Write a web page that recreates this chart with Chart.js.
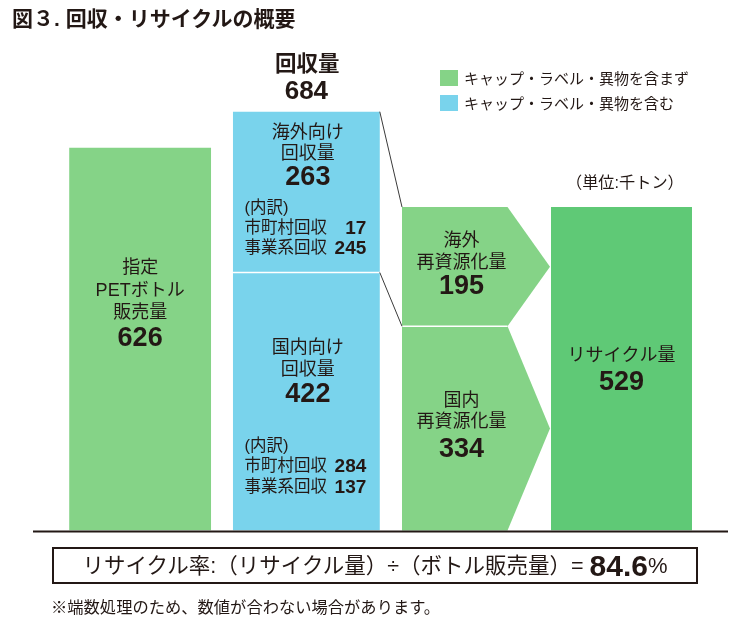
<!DOCTYPE html>
<html><head><meta charset="utf-8">
<script src="https://cdn.jsdelivr.net/npm/chart.js@4.4.0/dist/chart.umd.min.js"></script>
<style>
html,body{margin:0;padding:0;background:#fff;}
#wrap{position:relative;width:751px;height:627px;overflow:hidden;font-family:"Liberation Sans","Noto Sans CJK JP",sans-serif;color:#231815;}
#c{position:absolute;left:0;top:0;}
.abs{position:absolute;white-space:nowrap;}
</style></head><body>
<div id="wrap">
<canvas id="c" width="751" height="627"></canvas>
<div class="abs" style="left:12px;top:6px;font-size:21px;line-height:26px;font-weight:bold;">図３. 回収・リサイクルの概要</div>
<div class="abs" id="lg1" style="left:440px;top:70px;width:18px;height:16px;"></div>
<div class="abs" style="left:464px;top:69px;font-size:15px;line-height:20px;">キャップ・ラベル・異物を含まず</div>
<div class="abs" id="lg2" style="left:440px;top:94.5px;width:18px;height:16.5px;"></div>
<div class="abs" style="left:464px;top:94px;font-size:15px;line-height:20px;">キャップ・ラベル・異物を含む</div>
<div class="abs" style="left:566px;top:172px;font-size:16.2px;line-height:20px;">（単位:千トン）</div>
<div class="abs" style="left:52px;top:547px;width:646px;height:37px;box-sizing:border-box;border:2px solid #231815;display:flex;align-items:center;justify-content:center;">
  <span style="font-size:21.5px;line-height:30px;">リサイクル率:（リサイクル量）÷（ボトル販売量）= </span><b style="font-size:30px;line-height:30px;margin-left:6px;">84.6</b><span style="font-size:22px;line-height:30px;">%</span>
</div>
<div class="abs" style="left:51px;top:597px;font-size:16.3px;line-height:20px;">※端数処理のため、数値が合わない場合があります。</div>
</div>
<script>
// ---- data (千トン) ----
const groups = ['販売量・回収量', '再資源化量・リサイクル量'];
const salesPET = [626, null];            // 指定PETボトル販売量
const collectedDomestic = [422, null];   // 国内向け回収量
const collectedOverseas = [263, null];   // 海外向け回収量
const reprocessedDomestic = [null, 334]; // 国内再資源化量
const reprocessedOverseas = [null, 195]; // 海外再資源化量
const recycledTotal = [null, 529];       // リサイクル量
const collectedTotal = 684;              // 回収量
const domesticBreakdown = [284, 137];    // 市町村回収, 事業系回収
const overseasBreakdown = [17, 245];
const breakdownNames = ['市町村回収', '事業系回収'];

const GREEN = '#85D387', BLUE = '#79D3EC', DGREEN = '#5FC976', INK = '#231815';
document.getElementById('lg1').style.background = GREEN;
document.getElementById('lg2').style.background = BLUE;

const cpA = 1.0215, cpB = 0.894;
const datasets = [
  {label: '指定PETボトル販売量', data: salesPET, stack: 'L', backgroundColor: GREEN, categoryPercentage: cpA, barPercentage: 0.853},
  {label: '国内向け回収量', data: collectedDomestic, stack: 'R', backgroundColor: BLUE, categoryPercentage: cpA, barPercentage: 0.883},
  {label: '海外向け回収量', data: collectedOverseas, stack: 'R', backgroundColor: BLUE, categoryPercentage: cpA, barPercentage: 0.883},
  {label: '国内再資源化量', data: reprocessedDomestic, stack: 'L', backgroundColor: 'rgba(0,0,0,0)', categoryPercentage: cpB, barPercentage: 1.017},
  {label: '海外再資源化量', data: reprocessedOverseas, stack: 'L', backgroundColor: 'rgba(0,0,0,0)', categoryPercentage: cpB, barPercentage: 1.017},
  {label: 'リサイクル量', data: recycledTotal, stack: 'R', backgroundColor: DGREEN, categoryPercentage: cpB, barPercentage: 0.969}
];

const FONT = '"Liberation Sans", "Noto Sans CJK JP", sans-serif';
function txt(ctx, s, x, y, size, bold, align) {
  ctx.font = (bold ? 'bold ' : '') + size + 'px ' + FONT;
  ctx.textAlign = align || 'center';
  ctx.textBaseline = 'middle';
  ctx.fillStyle = INK;
  ctx.fillText(s, x, y);
}
function arrowPath(ctx, el) {
  const l = el.x - el.width / 2, r = el.x + el.width / 2, n = el.width * 0.287;
  const t = el.y, b = el.base;
  ctx.beginPath();
  ctx.moveTo(l, t); ctx.lineTo(r - n, t); ctx.lineTo(r, (t + b) / 2);
  ctx.lineTo(r - n, b); ctx.lineTo(l, b); ctx.closePath();
}

const flowPlugin = {
  id: 'flow',
  afterDatasetsDraw(chart) {
    const ctx = chart.ctx;
    const el = (d, i) => chart.getDatasetMeta(d).data[i];
    const e0 = el(0, 0), e1 = el(1, 0), e2 = el(2, 0), e3 = el(3, 1), e4 = el(4, 1), e5 = el(5, 1);
    ctx.save();
    // arrows
    [e3, e4].forEach(e => { arrowPath(ctx, e); ctx.fillStyle = GREEN; ctx.fill(); });
    // white separators
    ctx.strokeStyle = '#fff'; ctx.lineWidth = 1.5;
    ctx.beginPath();
    ctx.moveTo(e2.x - e2.width / 2, e2.base); ctx.lineTo(e2.x + e2.width / 2, e2.base);
    ctx.moveTo(e4.x - e4.width / 2, e4.base); ctx.lineTo(e4.x + e4.width / 2 - e4.width * 0.287, e4.base);
    ctx.stroke();
    // connector lines
    ctx.strokeStyle = '#3a3a3a'; ctx.lineWidth = 1;
    const r2 = e2.x + e2.width / 2, l4 = e4.x - e4.width / 2;
    ctx.beginPath();
    ctx.moveTo(r2, e2.y); ctx.lineTo(l4, e4.y);
    ctx.moveTo(r2, e2.base); ctx.lineTo(l4, e4.base);
    ctx.stroke();
    // baseline
    const y0 = chart.scales.y.getPixelForValue(0);
    ctx.strokeStyle = INK; ctx.lineWidth = 2;
    ctx.beginPath();
    ctx.moveTo(chart.chartArea.left - 27.5, y0 + 1); ctx.lineTo(chart.chartArea.right + 16.5, y0 + 1);
    ctx.stroke();

    // labels
    const N = 18, B = 27;
    txt(ctx, '指定', e0.x, e0.y + 120, N);
    txt(ctx, 'PETボトル', e0.x, e0.y + 143, N);
    txt(ctx, '販売量', e0.x, e0.y + 165, N);
    txt(ctx, String(salesPET[0]), e0.x, e0.y + 191, B, true);
    txt(ctx, '回収量', e2.x + 1, e2.y - 47, 21.5, true);
    txt(ctx, String(collectedTotal), e2.x, e2.y - 20, 26, true);
    const bl = e2.x - e2.width / 2 + 11.5, br = e2.x + e2.width / 2 - 13.5, cx = e2.x + 1.5;
    txt(ctx, '海外向け', cx, e2.y + 21, N);
    txt(ctx, '回収量', cx, e2.y + 42, N);
    txt(ctx, String(collectedOverseas[0]), cx, e2.y + 66, B, true);
    txt(ctx, '(内訳)', bl, e2.y + 97, 16.5, false, 'left');
    txt(ctx, breakdownNames[0], bl, e2.y + 117, 16.5, false, 'left');
    txt(ctx, String(overseasBreakdown[0]), br, e2.y + 117, 19, true, 'right');
    txt(ctx, breakdownNames[1], bl, e2.y + 137, 16.5, false, 'left');
    txt(ctx, String(overseasBreakdown[1]), br, e2.y + 137, 19, true, 'right');
    txt(ctx, '国内向け', cx, e1.y + 76, N);
    txt(ctx, '回収量', cx, e1.y + 98, N);
    txt(ctx, String(collectedDomestic[0]), cx, e1.y + 122, B, true);
    txt(ctx, '(内訳)', bl, e1.y + 174, 16.5, false, 'left');
    txt(ctx, breakdownNames[0], bl, e1.y + 194, 16.5, false, 'left');
    txt(ctx, String(domesticBreakdown[0]), br, e1.y + 194, 19, true, 'right');
    txt(ctx, breakdownNames[1], bl, e1.y + 215, 16.5, false, 'left');
    txt(ctx, String(domesticBreakdown[1]), br, e1.y + 215, 19, true, 'right');
    const ax = e4.x - 14.5;
    txt(ctx, '海外', ax, e4.y + 34, N);
    txt(ctx, '再資源化量', ax, e4.y + 56, N);
    txt(ctx, String(reprocessedOverseas[1]), ax, e4.y + 79, B, true);
    txt(ctx, '国内', ax, e3.y + 75, N);
    txt(ctx, '再資源化量', ax, e3.y + 96, N);
    txt(ctx, String(reprocessedDomestic[1]), ax, e3.y + 123, B, true);
    txt(ctx, 'リサイクル量', e5.x, e5.y + 149, N);
    txt(ctx, String(recycledTotal[1]), e5.x, e5.y + 175, B, true);
    ctx.restore();
  }
};

new Chart(document.getElementById('c'), {
  type: 'bar',
  data: {labels: groups, datasets},
  options: {
    responsive: false,
    animation: false,
    events: [],
    layout: {padding: {left: 60.5, right: 39.5, top: 102.5, bottom: 96.5}},
    plugins: {legend: {display: false}, tooltip: {enabled: false}, title: {display: false}},
    scales: {
      x: {display: false, stacked: true},
      y: {display: false, stacked: true, min: 0, max: 700}
    }
  },
  plugins: [flowPlugin]
});
</script>
</body></html>
